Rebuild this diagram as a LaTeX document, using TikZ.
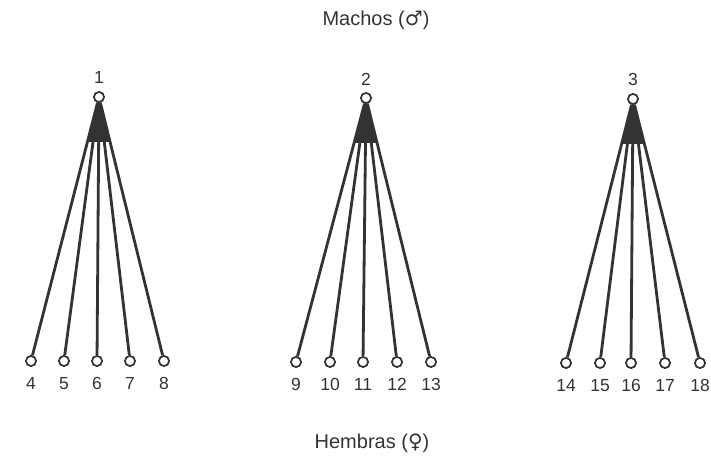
\documentclass[tikz,border=0pt]{standalone}
\usepackage{fontspec}
\setmainfont{Liberation Sans}
\newfontfamily\symfont{DejaVu Sans}
\usetikzlibrary{calc}
\definecolor{ink}{HTML}{333333}
\tikzset{
  animal/.style={circle,draw=ink,fill=white,line width=1.6pt,minimum size=10pt,inner sep=0pt},
  numlabel/.style={text=ink,font=\fontsize{17.5}{19}\selectfont,inner sep=0pt,anchor=base},
  cross/.style={draw=ink,line width=2.8pt},
  wedge/.style={fill=ink},
  caption/.style={text=ink,font=\fontsize{20}{23}\selectfont,inner sep=0pt}
}
\begin{document}
\begin{tikzpicture}[x=1pt,y=-1pt]
\useasboundingbox (0,0) rectangle (711,457);

% sires
\node[animal] (r1) at (99,97) {};
\node[animal] (r2) at (366,98) {};
\node[animal] (r3) at (633,99) {};
\node[numlabel] (n1) at (99,83.5) {1};
\node[numlabel] (n2) at (366,85.5) {2};
\node[numlabel] (n3) at (633,85.5) {3};

% dams
\foreach \i/\x/\y in {4/31/361,5/64/361,6/97/361,7/130/361,8/164/361,
                      9/296/362,10/330/362,11/363/362,12/397/362,13/431/362,
                      14/566/363,15/600/363,16/631/363,17/665/363,18/700/363}{
  \node[animal] (l\i) at (\x,\y) {};
  \node[numlabel] (m\i) at (\x,\y+28.3) {\i};
}

% matings: each sire joined to its five dams
\foreach \r/\a/\b/\c/\d/\e in {r1/4/5/6/7/8, r2/9/10/11/12/13, r3/14/15/16/17/18}{
  \fill[wedge] (\r.south) -- ($(\r.center)!0.17!(l\a.center)$) -- ($(\r.center)!0.17!(l\e.center)$) -- cycle;
  \foreach \k in {\a,\b,\c,\d,\e}{
    \draw[cross] (\r) -- (l\k);
  }
}
% redraw circles on top of the lines
\foreach \r in {r1,r2,r3}{ \node[animal] at (\r) {}; }
\foreach \i in {4,...,18}{ \node[animal] at (l\i) {}; }

\node[caption] (machos) at (376,20) {Machos ({\symfont ♂})};
\node[caption] (hembras) at (372,443) {Hembras ({\symfont ♀})};
\end{tikzpicture}
\end{document}
